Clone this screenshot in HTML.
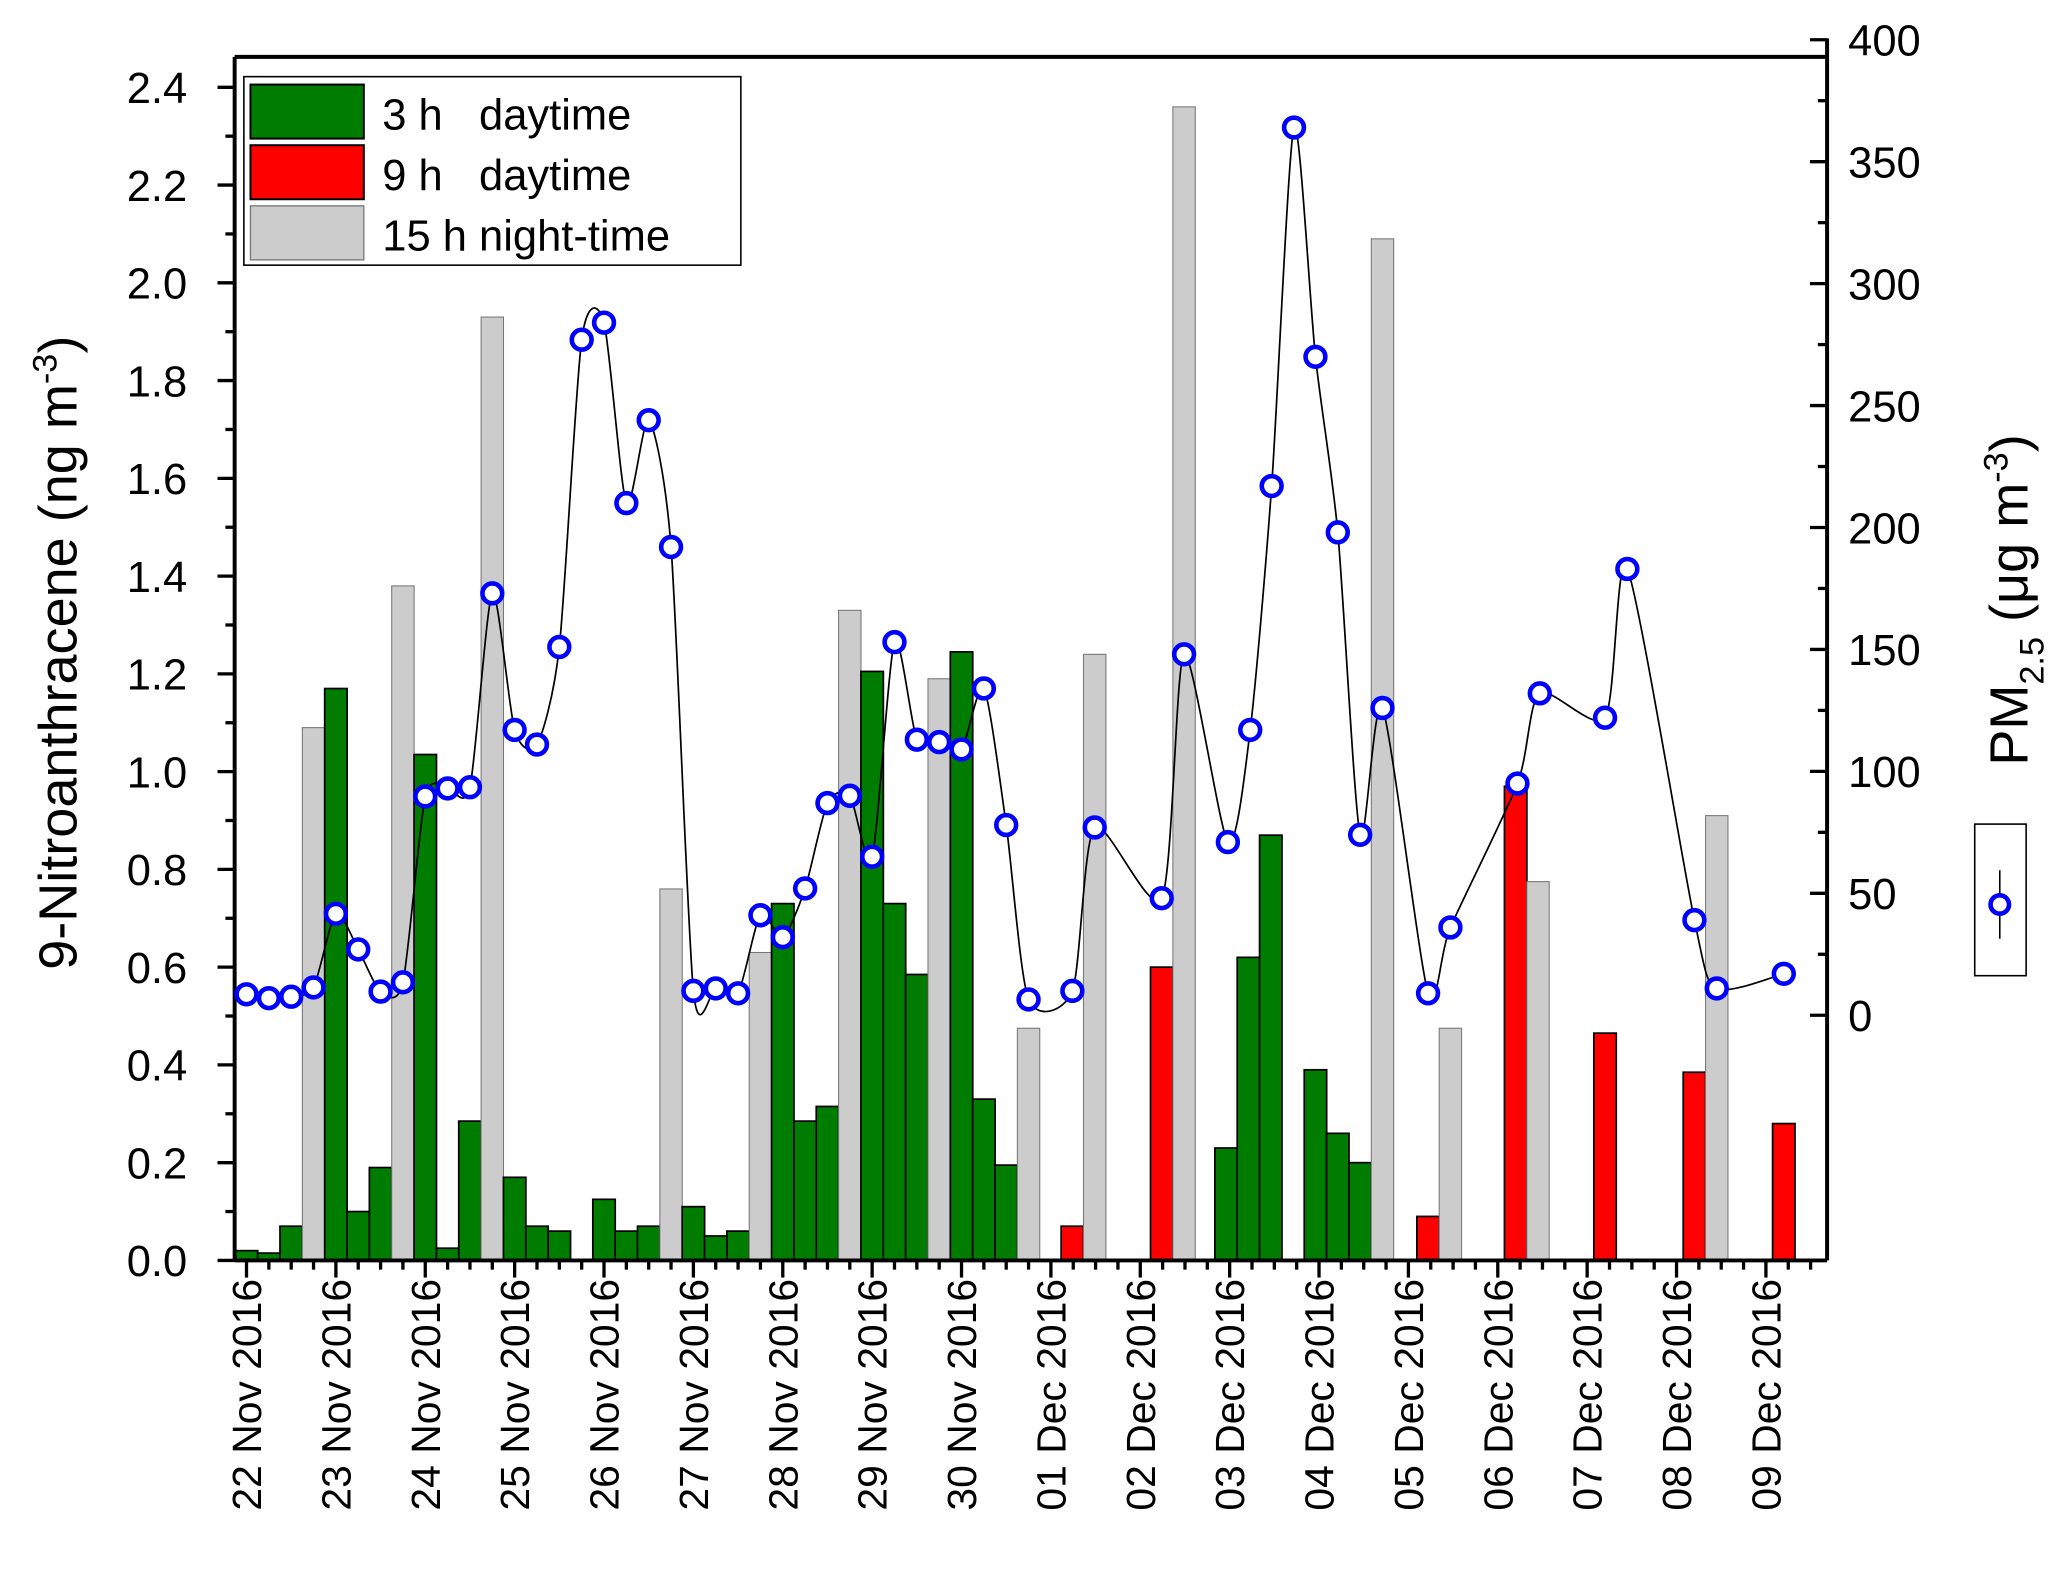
<!DOCTYPE html>
<html><head><meta charset="utf-8"><style>
html,body{margin:0;padding:0;background:#fff}
svg{display:block;font-family:"Liberation Sans",Arial,sans-serif}
</style></head><body>
<svg id="chart" width="2067" height="1577" viewBox="0 0 1568 1196" xmlns="http://www.w3.org/2000/svg">
<g id="bars"></g>
<g id="axes"></g>
<g id="series"></g>
<g>
<rect x="185" y="58" width="377" height="143" fill="#fff" stroke="#000" stroke-width="1.2"/>
<rect x="190" y="64" width="86" height="41" fill="#007d00" stroke="#000" stroke-width="1.5"/>
<text x="290" y="98" font-size="33">3 h&#160;&#160;&#160;daytime</text>
<rect x="190" y="110" width="86" height="41" fill="#ff0000" stroke="#000" stroke-width="1.5"/>
<text x="290" y="144" font-size="33">9 h&#160;&#160;&#160;daytime</text>
<rect x="190" y="156" width="86" height="41" fill="#cccccc" stroke="#777" stroke-width="1"/>
<text x="290" y="190" font-size="33">15 h night-time</text>
</g>
<g>
<rect x="1498" y="625" width="39" height="115" fill="#fff" stroke="#000" stroke-width="1.2"/>
<line x1="1517" y1="660" x2="1517" y2="712" stroke="#000" stroke-width="1.2"/>
<circle cx="1517" cy="686" r="7" fill="#fff" stroke="#0000ff" stroke-width="3.5"/>
</g>
<text transform="translate(58,495) rotate(-90)" text-anchor="middle" font-size="41">9-Nitroanthracene (ng m<tspan dy="-15" font-size="26">-3</tspan><tspan dy="15">)</tspan></text>
<text transform="translate(1538,455) rotate(-90)" text-anchor="middle" font-size="41">PM<tspan dy="12" font-size="26">2.5</tspan><tspan dy="-12"> (μg m</tspan><tspan dy="-15" font-size="26">-3</tspan><tspan dy="15">)</tspan></text>
</svg>
<script>
const dayLabels=["22 Nov 2016","23 Nov 2016","24 Nov 2016","25 Nov 2016","26 Nov 2016","27 Nov 2016","28 Nov 2016","29 Nov 2016","30 Nov 2016","01 Dec 2016","02 Dec 2016","03 Dec 2016","04 Dec 2016","05 Dec 2016","06 Dec 2016","07 Dec 2016","08 Dec 2016","09 Dec 2016"];
const leftTicks=[0,0.2,0.4,0.6,0.8,1.0,1.2,1.4,1.6,1.8,2.0,2.2,2.4];
const rightTicks=[0,50,100,150,200,250,300,350,400];
const barTimes=[0,0.25,0.5,0.75, 1,1.25,1.5,1.75, 2,2.25,2.5,2.75, 3,3.25,3.5, 4,4.25,4.5,4.75, 5,5.25,5.5,5.75, 6,6.25,6.5,6.75, 7,7.25,7.5,7.75, 8,8.25,8.5,8.75, 9.24,9.49, 10.24,10.49, 10.96,11.21,11.46, 11.96,12.21,12.46,12.71, 13.22,13.47, 14.2,14.45, 15.2, 16.2,16.45, 17.2];
const barValues=[0.02,0.015,0.07,1.09, 1.17,0.10,0.19,1.38, 1.035,0.025,0.285,1.93, 0.17,0.07,0.06, 0.125,0.06,0.07,0.76, 0.11,0.05,0.06,0.63, 0.73,0.285,0.315,1.33, 1.205,0.73,0.585,1.19, 1.245,0.33,0.195,0.475, 0.07,1.24, 0.60,2.36, 0.23,0.62,0.87, 0.39,0.26,0.20,2.09, 0.09,0.475, 0.97,0.775, 0.465, 0.385,0.91, 0.28];
const barTypes=["g","g","g","n","g","g","g","n","g","g","g","n","g","g","g","g","g","g","n","g","g","g","n","g","g","g","n","g","g","g","n","g","g","g","n","r","n","r","n","g","g","g","g","g","g","n","r","n","r","n","r","r","n","r"];
const pmTimes=[0,0.25,0.5,0.75,1,1.25,1.5,1.75,2,2.25,2.5,2.75,3,3.25,3.5,3.75,4,4.25,4.5,4.75,5,5.25,5.5,5.75,6,6.25,6.5,6.75,7,7.25,7.5,7.75,8,8.25,8.5,8.75,9.24,9.49,10.24,10.49,10.98,11.23,11.47,11.72,11.96,12.21,12.46,12.71,13.22,13.47,14.22,14.47,15.2,15.45,16.2,16.45,17.2];
const pmValues=[8.6,7,7.6,11.4,41.6,27,9.7,13.5,89.7,93,93.5,173,117,111,151,277,284,210,244,192,10,11,9,41,32,52,87,90,65,153,113,112,109,134,78,6.5,10,77,48,148,71,117,217,364,270,198,74,126,9,36,95,132,122,183,39,11,17];
const NS="http://www.w3.org/2000/svg";
const X0=178,X1=1386,YB=956,YT=43;
const x=t=>187+t*67.8;
const yL=v=>956-v*370.8;
const yR=v=>770-v*1.85;
function mk(tag,attrs,parent){const e=document.createElementNS(NS,tag);for(const k in attrs)e.setAttribute(k,attrs[k]);parent.appendChild(e);return e;}
const bars=document.getElementById('bars'),axes=document.getElementById('axes'),series=document.getElementById('series');
const col={g:"#007d00",r:"#ff0000",n:"#cccccc"};
barTimes.forEach((t,i)=>{const v=barValues[i],ty=barTypes[i];
 const r=mk('rect',{x:x(t)-8.5,y:yL(v),width:17,height:YB-yL(v),fill:col[ty],stroke:ty==="n"?"#777":"#000","stroke-width":ty==="n"?0.8:1.3},bars);
 
 });
mk('line',{x1:X0,y1:YB,x2:X0,y2:YT,stroke:"#000","stroke-width":3},axes);
mk('line',{x1:X1,y1:YB,x2:X1,y2:YT-14,stroke:"#000","stroke-width":3},axes);
mk('line',{x1:X0,y1:YB,x2:X1,y2:YB,stroke:"#000","stroke-width":3},axes);
mk('line',{x1:X0,y1:YT,x2:X1,y2:YT,stroke:"#000","stroke-width":3},axes);
for(let v=0;v<=24;v++){const yy=yL(v/10),maj=v%2===0;mk('line',{x1:X0,y1:yy,x2:X0-(maj?13:7),y2:yy,stroke:"#000","stroke-width":2.5},axes);}
leftTicks.forEach(v=>{const t=mk('text',{x:142,y:yL(v)+12,"text-anchor":"end","font-size":33},axes);t.textContent=v.toFixed(1);
 
 });
for(let v=0;v<=400;v+=25){const yy=yR(v),maj=v%50===0;mk('line',{x1:X1,y1:yy,x2:X1-(maj?13:7),y2:yy,stroke:"#000","stroke-width":2.5},axes);}
rightTicks.forEach(v=>{const t=mk('text',{x:1402,y:yR(v)+12,"font-size":33},axes);t.textContent=v;
 
 });
for(let k=0;k<=70;k++){const xx=x(k/4);if(xx>X1)break;const maj=k%4===0;mk('line',{x1:xx,y1:YB,x2:xx,y2:YB+(maj?13:7),stroke:"#000","stroke-width":2.5},axes);}
dayLabels.forEach((d,i)=>{const t=mk('text',{transform:`translate(${x(i)+11},970) rotate(-90)`,"text-anchor":"end","font-size":31},axes);t.textContent=d;
 
 });
const pts=pmTimes.map((t,i)=>[x(t),yR(pmValues[i])]);
let d=`M${pts[0][0]},${pts[0][1]}`;
const k6=8;
for(let i=0;i<pts.length-1;i++){const p0=pts[Math.max(0,i-1)],p1=pts[i],p2=pts[i+1],p3=pts[Math.min(pts.length-1,i+2)];
 d+=` C${p1[0]+(p2[0]-p0[0])/k6},${p1[1]+(p2[1]-p0[1])/k6} ${p2[0]-(p3[0]-p1[0])/k6},${p2[1]-(p3[1]-p1[1])/k6} ${p2[0]},${p2[1]}`;}
const ln=mk('path',{d:d,fill:"none",stroke:"#000","stroke-width":1.3},series);


pts.forEach(p=>{const c=mk('circle',{cx:p[0],cy:p[1],r:7.5,fill:"#fff",stroke:"#0000ff","stroke-width":3.5},series);
 
 });
</script>
</body></html>
